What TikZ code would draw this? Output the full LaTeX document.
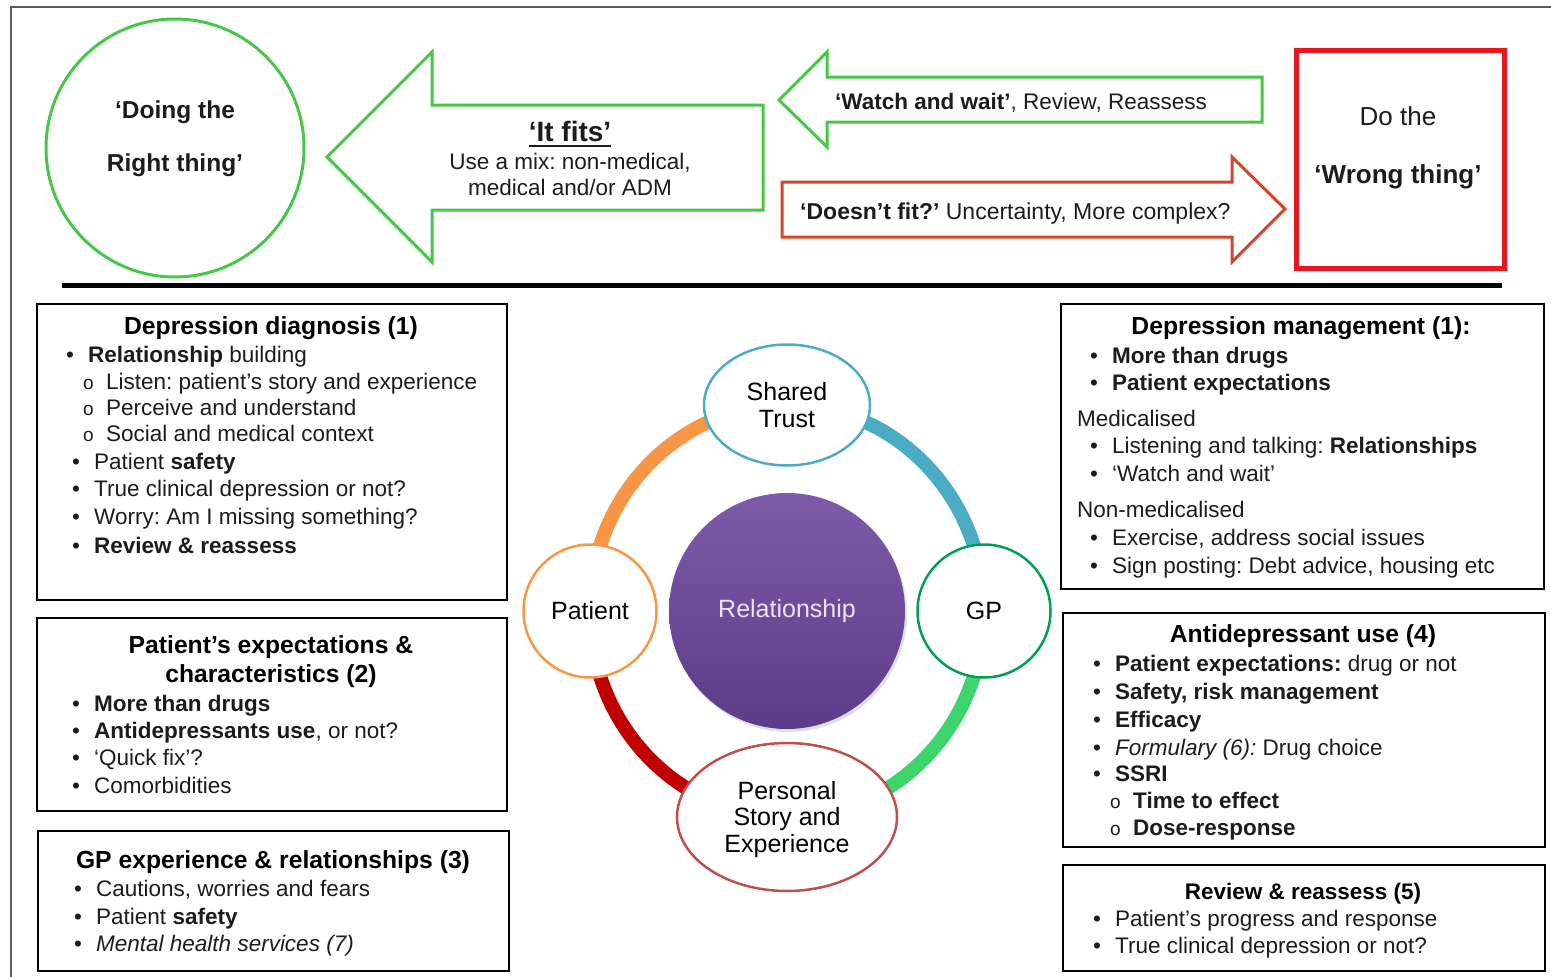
\documentclass[tikz,border=0pt]{standalone}
\usepackage{fontspec}
\setmainfont{Liberation Sans}
\usetikzlibrary{shapes.geometric,shadows}
\frenchspacing

\definecolor{ink}{HTML}{1C1C1C}
\definecolor{fitgreen}{HTML}{46C846}
\definecolor{arrowred}{HTML}{D4462A}
\definecolor{boxred}{HTML}{E8161E}
\definecolor{ringorange}{HTML}{F79646}
\definecolor{ringblue}{HTML}{4BACC6}
\definecolor{ringgreen}{HTML}{3ED46C}
\definecolor{ringred}{HTML}{C00000}
\definecolor{gpgreen}{HTML}{00A050}
\definecolor{storyred}{HTML}{C0504D}
\definecolor{purpletop}{HTML}{7E5BA9}
\definecolor{purplebot}{HTML}{5C3B88}
\definecolor{framegray}{HTML}{5A5A5A}
\definecolor{lavender}{HTML}{ECE4F4}

% list markers hung to the left of the item text
\newcommand\bulletmark{\llap{\makebox[22pt][l]{•}}}
\newcommand\circmark{\llap{\makebox[23pt][l]{\fontsize{19}{19}\selectfont o}}}

\tikzset{
  body/.style={anchor=base west, inner sep=0pt, text=ink, font=\fontsize{22.5}{27}\selectfont},
  head/.style={anchor=base, inner sep=0pt, text=black, font=\fontsize{24.7}{29}\selectfont\bfseries},
  panel/.style={draw=black, line width=2.4pt, anchor=north west, inner sep=0pt},
  bigarrow/.style={line width=3pt, line join=miter},
  ring/.style={line width=14pt},
  member/.style={fill=white, line width=2.5pt, inner sep=0pt, text=black,
                 font=\fontsize{25}{26.5}\selectfont, align=center},
}

\begin{document}
\begin{tikzpicture}[x=1pt,y=-1pt]
\useasboundingbox (0,0) rectangle (1551,977);
\fill[white] (0,0) rectangle (1551,977);

% outer frame (top and left edges)
\coordinate (fa) at (1551,7);
\coordinate (fb) at (11,7);
\coordinate (fc) at (11,977);
\draw[framegray, line width=1.5pt] (fa) -- (fb) -- (fc);

% ---------- top band ----------
\node[circle, draw=fitgreen, line width=3pt, minimum size=258, inner sep=0pt] (right) at (175,148) {};
\node[anchor=base, inner sep=0pt, font=\fontsize{24.5}{29}\selectfont\bfseries, text=ink] (right1) at (175,118) {‘Doing the};
\node[anchor=base, inner sep=0pt, font=\fontsize{24.5}{29}\selectfont\bfseries, text=ink] (right2) at (175,171) {Right thing’};

% "It fits" arrow
\draw[bigarrow, draw=fitgreen] (327,157) -- (432,52) -- (432,105) -- (763,105) -- (763,210) -- (432,210) -- (432,262) -- cycle;
\node[anchor=base, inner sep=0pt, font=\fontsize{28}{32}\selectfont\bfseries, text=ink] (fits) at (570,141) {‘It fits’};
\draw[ink, line width=2.6pt] ([yshift=-5pt]fits.base west) -- ([yshift=-5pt]fits.base east);
\node[anchor=base, inner sep=0pt, font=\fontsize{22.5}{27}\selectfont, text=ink] (fits1) at (570,169) {Use a mix: non-medical,};
\node[anchor=base, inner sep=0pt, font=\fontsize{22.5}{27}\selectfont, text=ink] (fits2) at (570,195) {medical and/or ADM};

% "Watch and wait" arrow
\draw[bigarrow, draw=fitgreen] (779,100) -- (827,52) -- (827,77) -- (1262,77) -- (1262,122) -- (827,122) -- (827,147) -- cycle;
\node[body] (watch) at (835,109) {\textbf{‘Watch and wait’}, Review, Reassess};

% "Doesn't fit" arrow
\draw[bigarrow, draw=arrowred] (782,182) -- (1232,182) -- (1232,157) -- (1285,209) -- (1232,262) -- (1232,237) -- (782,237) -- cycle;
\node[body, font=\fontsize{23}{27}\selectfont] (nofit) at (800,219) {\textbf{‘Doesn’t fit?’} Uncertainty, More complex?};

% "Wrong thing" box
\node[draw=boxred, line width=4.5pt, anchor=north west, minimum width=208, minimum height=218, inner sep=0pt] (wrong) at (1294,48) {};
\node[anchor=base, inner sep=0pt, font=\fontsize{26}{30}\selectfont, text=ink] (wrong1) at (1398,125) {Do the};
\node[anchor=base, inner sep=0pt, font=\fontsize{26}{30}\selectfont\bfseries, text=ink] (wrong2) at (1398,183) {‘Wrong thing’};

% separator
\coordinate (sepL) at (62,285);
\coordinate (sepR) at (1502,285);
\draw[black, line width=5pt] (sepL) -- (sepR);

% ---------- left panels ----------
\node[panel, minimum width=470, minimum height=296] (dx) at (36,303) {};
\node[head] (dxh) at (271,334) {Depression diagnosis (1)};
\node[body] (dx1) at (88,362) {\bulletmark\textbf{Relationship} building};
\node[body] (dx2) at (106,389) {\circmark Listen: patient’s story and experience};
\node[body] (dx3) at (106,415) {\circmark Perceive and understand};
\node[body] (dx4) at (106,441) {\circmark Social and medical context};
\node[body] (dx5) at (94,469) {\bulletmark Patient \textbf{safety}};
\node[body] (dx6) at (94,496) {\bulletmark True clinical depression or not?};
\node[body] (dx7) at (94,524) {\bulletmark Worry: Am I missing something?};
\node[body] (dx8) at (94,553) {\bulletmark\textbf{Review \& reassess}};

\node[panel, minimum width=470, minimum height=193] (pe) at (36,617) {};
\node[head] (peh1) at (271,653) {Patient’s expectations \&};
\node[head] (peh2) at (271,682) {characteristics (2)};
\node[body] (pe1) at (94,711) {\bulletmark\textbf{More than drugs}};
\node[body] (pe2) at (94,738) {\bulletmark\textbf{Antidepressants use}, or not?};
\node[body] (pe3) at (94,765) {\bulletmark‘Quick fix’?};
\node[body] (pe4) at (94,793) {\bulletmark Comorbidities};

\node[panel, minimum width=471, minimum height=140] (gp) at (37,830) {};
\node[head] (gph) at (273,868) {GP experience \& relationships (3)};
\node[body] (gp1) at (96,896) {\bulletmark Cautions, worries and fears};
\node[body] (gp2) at (96,924) {\bulletmark Patient \textbf{safety}};
\node[body] (gp3) at (96,951) {\bulletmark\textit{Mental health services (7)}};

% ---------- right panels ----------
\node[panel, minimum width=483, minimum height=285] (dm) at (1060,303) {};
\node[head] (dmh) at (1301,334) {Depression management (1):};
\node[body] (dm1) at (1112,363) {\bulletmark\textbf{More than drugs}};
\node[body] (dm2) at (1112,390) {\bulletmark\textbf{Patient expectations}};
\node[body] (dm3) at (1077,426) {Medicalised};
\node[body] (dm4) at (1112,453) {\bulletmark Listening and talking: \textbf{Relationships}};
\node[body] (dm5) at (1112,481) {\bulletmark‘Watch and wait’};
\node[body] (dm6) at (1077,517) {Non-medicalised};
\node[body] (dm7) at (1112,545) {\bulletmark Exercise, address social issues};
\node[body] (dm8) at (1112,573) {\bulletmark Sign posting: Debt advice, housing etc};

\node[panel, minimum width=482, minimum height=234] (ad) at (1062,612) {};
\node[head] (adh) at (1303,642) {Antidepressant use (4)};
\node[body] (ad1) at (1115,671) {\bulletmark\textbf{Patient expectations:} drug or not};
\node[body] (ad2) at (1115,699) {\bulletmark\textbf{Safety, risk management}};
\node[body] (ad3) at (1115,727) {\bulletmark\textbf{Efficacy}};
\node[body] (ad4) at (1115,755) {\bulletmark\textit{Formulary (6):} Drug choice};
\node[body] (ad5) at (1115,781) {\bulletmark\textbf{SSRI}};
\node[body] (ad6) at (1133,808) {\circmark\textbf{Time to effect}};
\node[body] (ad7) at (1133,835) {\circmark\textbf{Dose-response}};

\node[panel, minimum width=482, minimum height=106] (rr) at (1062,864) {};
\node[head, font=\fontsize{22.5}{27}\selectfont\bfseries] (rrh) at (1303,899) {Review \& reassess (5)};
\node[body] (rr1) at (1115,926) {\bulletmark Patient’s progress and response};
\node[body] (rr2) at (1115,953) {\bulletmark True clinical depression or not?};

% ---------- relationship cycle ----------
\coordinate (hub) at (787,611);
\coordinate (pPatient) at (590,611);
\coordinate (pTrust) at (787,405);
\coordinate (pGP) at (984,611);
\coordinate (pStory) at (787,817);
\draw[ring, ringorange] (pPatient) arc[start angle=180, end angle=270, x radius=197, y radius=206];
\draw[ring, ringblue]   (pTrust)   arc[start angle=270, end angle=360, x radius=197, y radius=206];
\draw[ring, ringgreen]  (pGP)      arc[start angle=0,   end angle=90,  x radius=197, y radius=206];
\draw[ring, ringred]    (pStory)   arc[start angle=90,  end angle=180, x radius=197, y radius=206];

\node[circle, minimum size=236, inner sep=0pt, top color=purpletop, bottom color=purplebot,
      drop shadow={opacity=0.25, shadow xshift=2pt, shadow yshift=-3pt},
      text=lavender, font=\fontsize{25}{29}\selectfont] (rel) at (hub) {Relationship};

\node[member, ellipse, draw=ringblue, minimum width=166, minimum height=121] (trust) at (pTrust) {Shared\\Trust};
\node[member, circle, draw=ringorange, minimum size=133] (patient) at (pPatient) {Patient};
\node[member, circle, draw=gpgreen, minimum size=133] (gpn) at (pGP) {GP};
% extra invisible height on top pushes the three lines slightly down inside the ellipse
\node[member, ellipse, draw=storyred, minimum width=220, minimum height=148] (story) at (pStory)
  {\raisebox{0pt}[\dimexpr\height+7pt\relax][\depth]{\begin{tabular}{@{}c@{}}Personal\\Story and\\Experience\end{tabular}}};

\end{tikzpicture}
\end{document}
